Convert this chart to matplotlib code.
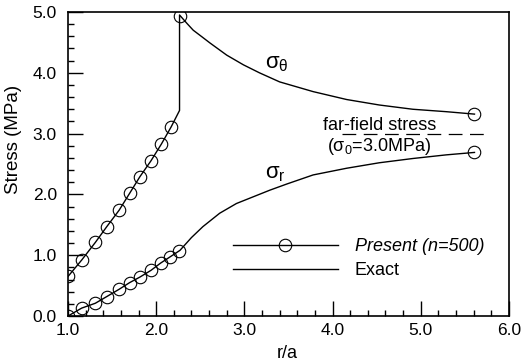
import matplotlib

matplotlib.use("Agg")
import matplotlib.pyplot as plt
from matplotlib.lines import Line2D
from matplotlib.ticker import MultipleLocator

plt.rcParams["font.family"] = ["Liberation Sans", "DejaVu Sans"]
plt.rcParams["mathtext.fontset"] = "dejavusans"
plt.rcParams["mathtext.default"] = "regular"

# exact solution, hoop stress (jump at the elastic-plastic boundary)
r_theta_exact = [1.0, 1.155, 1.31, 1.44, 1.58, 1.70, 1.815, 1.94, 2.06, 2.17, 2.265,
                 2.265, 2.35, 2.42, 2.52, 2.61, 2.80, 2.99, 3.17, 3.40, 3.59, 3.78,
                 4.16, 4.53, 4.91, 5.29, 5.61]
s_theta_exact = [0.65, 0.92, 1.21, 1.47, 1.74, 2.02, 2.29, 2.55, 2.83, 3.11, 3.38,
                 4.95, 4.81, 4.70, 4.59, 4.49, 4.29, 4.13, 4.00, 3.85, 3.77, 3.69,
                 3.56, 3.47, 3.40, 3.36, 3.32]

# exact solution, radial stress
r_r_exact = [1.0, 1.155, 1.31, 1.44, 1.58, 1.70, 1.815, 1.94, 2.05, 2.155, 2.27,
             2.40, 2.53, 2.72, 2.91, 3.10, 3.29, 3.48, 3.78, 4.16, 4.53, 4.91,
             5.29, 5.61]
s_r_exact = [0.0, 0.13, 0.21, 0.32, 0.44, 0.55, 0.64, 0.75, 0.87, 0.97, 1.08,
             1.29, 1.47, 1.69, 1.85, 1.96, 2.07, 2.17, 2.32, 2.43, 2.52, 2.59,
             2.65, 2.69]

# present method (n=500), sampled points
r_theta_present = [1.0, 1.155, 1.31, 1.44, 1.58, 1.70, 1.815, 1.94, 2.06, 2.17, 2.27, 5.61]
s_theta_present = [0.65, 0.92, 1.21, 1.47, 1.74, 2.02, 2.29, 2.55, 2.83, 3.11, 4.93, 3.32]
r_r_present = [1.0, 1.155, 1.31, 1.44, 1.58, 1.70, 1.815, 1.94, 2.05, 2.155, 2.26, 5.61]
s_r_present = [0.0, 0.13, 0.21, 0.32, 0.44, 0.55, 0.64, 0.75, 0.87, 0.97, 1.07, 2.69]

far_field = 3.0
far_field_span = [4.11, 5.76]

fig = plt.figure(figsize=(5.23, 3.62), dpi=100)
ax = fig.add_axes([0.130, 0.127, 0.843, 0.840])

ax.plot(r_theta_exact, s_theta_exact, color="black", lw=1.0)
ax.plot(r_r_exact, s_r_exact, color="black", lw=1.0)
marker_kw = dict(ls="none", marker="o", ms=9, mfc="none", mec="black", mew=0.8)
ax.plot(r_theta_present, s_theta_present, **marker_kw)
ax.plot(r_r_present, s_r_present, **marker_kw)

ax.plot(far_field_span, [far_field, far_field], color="black", lw=0.9,
        dashes=(11, 6))

ax.text(3.23, 4.16, r"$\sigma_\theta$", fontsize=16, va="center")
ax.text(3.23, 2.35, r"$\sigma_r$", fontsize=16, va="center")
ax.text(3.89, 3.06, "far-field stress", fontsize=13, va="baseline")
ax.text(3.94, 2.78, r"($\sigma_0$=3.0MPa)", fontsize=13, va="center")

handles = [
    Line2D([], [], color="black", lw=1.0, marker="o", ms=9, mfc="none", mew=0.8),
    Line2D([], [], color="black", lw=1.0),
]
leg = ax.legend(handles, ["Present (n=500)", "Exact"], loc="center left",
                bbox_to_anchor=(0.374, 0.189), frameon=False, fontsize=13,
                handlelength=5.8, handletextpad=0.95, labelspacing=0.4,
                borderpad=0, borderaxespad=0)
leg.get_texts()[0].set_style("italic")

ax.set_xlim(1.0, 6.0)
ax.set_ylim(0.0, 5.0)
ax.xaxis.set_major_locator(MultipleLocator(1.0))
ax.xaxis.set_minor_locator(MultipleLocator(0.2))
ax.yaxis.set_major_locator(MultipleLocator(1.0))
ax.yaxis.set_minor_locator(MultipleLocator(0.2))
ax.xaxis.set_major_formatter("{x:.1f}")
ax.yaxis.set_major_formatter("{x:.1f}")
ax.tick_params(which="both", direction="in", top=False, right=False,
               labelsize=12.5, width=1.0)
ax.tick_params(which="major", length=11, pad=5)
ax.tick_params(which="minor", length=4.5)
ax.tick_params(axis="y", which="major", pad=8)
for s in ax.spines.values():
    s.set_linewidth(1.2)

ax.set_xlabel("r/a", fontsize=13)
ax.set_ylabel("Stress (MPa)", fontsize=13.5)
ax.xaxis.set_label_coords(0.497, -0.095)
ax.yaxis.set_label_coords(-0.105, 0.58)

fig.savefig("out.png", dpi=100)
